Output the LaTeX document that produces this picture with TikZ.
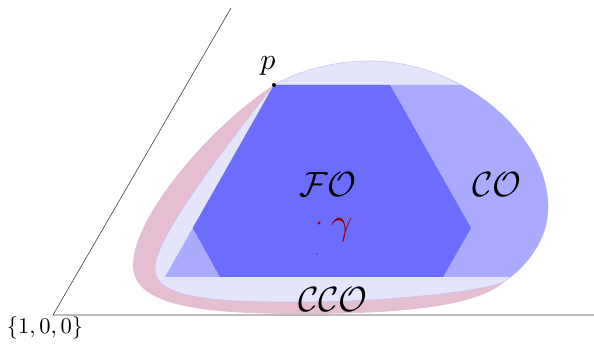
\documentclass[tikz,border=0pt]{standalone}
\definecolor{pinkc}{RGB}{230,190,210}
\definecolor{lavc}{RGB}{228,228,250}
\definecolor{lavedge}{RGB}{200,200,245}
\definecolor{lightbl}{RGB}{170,170,255}
\definecolor{darkbl}{RGB}{108,108,255}
\definecolor{gamred}{RGB}{150,0,0}
\begin{document}
\begin{tikzpicture}[x=1pt,y=-1pt,
  simplexline/.style={black!75,line width=0.6pt},
  lavpath/.style={insert path={(274,85) .. controls (300,70) and (335,61) .. (370,61)
    .. controls (462,61) and (548,135) .. (548,207)
    .. controls (548,242) and (524,268) .. (505,281)
    .. controls (485,292) and (380,302) .. (300,302)
    .. controls (210,302) and (155,298) .. (155,268)
    .. controls (155,240) and (215,160) .. (274,85) -- cycle}},
  pinkpath/.style={insert path={(274,85) .. controls (214,123) and (133,215) .. (133,265)
    .. controls (133,303) and (190,314) .. (300,314)
    .. controls (410,314) and (480,305) .. (505,281)
    -- (400,200) -- cycle}},
  lbl/.style={inner sep=0pt},
]
\useasboundingbox (0,0) rectangle (594,344);
% simplex edges
\coordinate (v1) at (53,315);
\coordinate (v2) at (231,8);
\coordinate (v3) at (594,315);
\draw[simplexline] (v2) -- (v1) -- (v3);
% pink region
\fill[pinkc, pinkpath];
% lavender region
\fill[lavc, draw=lavedge, line width=0.6pt, lavpath];
% CO region
\begin{scope}
  \clip (274,85) -- (600,85) -- (600,277) -- (165,277) -- cycle;
  \fill[lightbl, lavpath];
\end{scope}
% FO hexagon
\fill[darkbl] (274,85) -- (390,85) -- (471,228) -- (443,277) -- (220,277) -- (192.8,228) -- cycle;
% point p
\fill (274,85) circle (2pt);
\node[lbl] (plab) at (268,66) {\scalebox{3}{$p$}};
% gamma
\fill[gamred] (319,223) circle (1.6pt);
\fill[gamred] (317,254) circle (0.6pt);
\node[lbl, text=gamred] (gam) at (342,230) {\scalebox{3.7}{$\gamma$}};
% labels
\node[lbl] (fo) at (328,185) {\scalebox{3.5}{$\mathcal{FO}$}};
\node[lbl] (co) at (497,185) {\scalebox{3.5}{$\mathcal{CO}$}};
\node[lbl] (cco) at (333,300) {\scalebox{3.5}{$\mathcal{CCO}$}};
\node[lbl] (vlab) at (45,328) {\scalebox{2.25}{$\{1,0,0\}$}};
\end{tikzpicture}
\end{document}
